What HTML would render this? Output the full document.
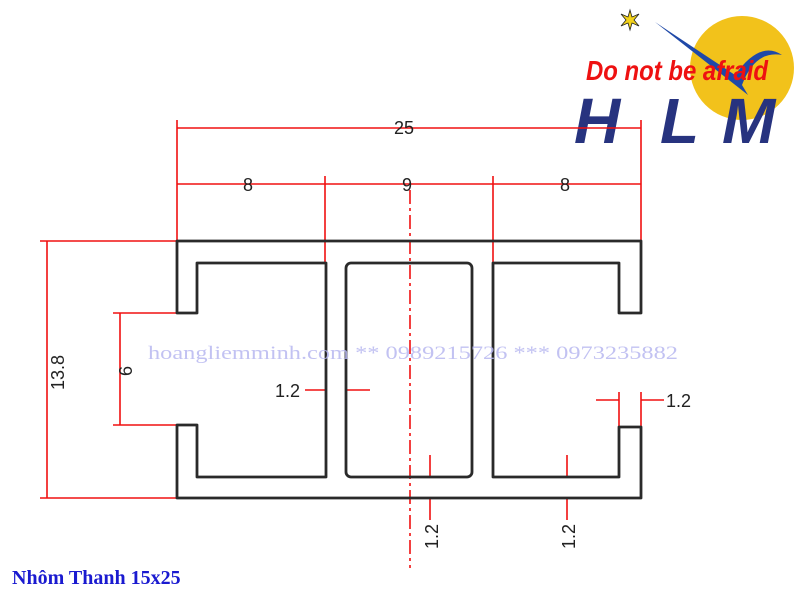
<!DOCTYPE html>
<html><head><meta charset="utf-8"><style>
html,body{margin:0;padding:0;background:#fff;}
svg{display:block;}
</style></head><body>
<svg width="800" height="600" viewBox="0 0 800 600" xmlns="http://www.w3.org/2000/svg">
<rect width="800" height="600" fill="#fff"/>
<!-- logo -->
<circle cx="742" cy="68" r="52" fill="#f2c21b"/>
<path d="M655,22 L735,75 Q760,40 782,55 Q755,50 742,85 L748,95 Z" fill="#1f49a8"/>
<g transform="translate(630,20)" fill="#f3d21a" stroke="#222" stroke-width="0.8">
<polygon points="0,-10 2,-3 9,-6 4,0 9,6 2,3 0,10 -2,3 -9,6 -4,0 -9,-6 -2,-3"/>
</g>
<text x="586" y="80" font-family="Liberation Sans, sans-serif" font-weight="bold" font-style="italic" font-size="28" fill="#ee1111" textLength="182" lengthAdjust="spacingAndGlyphs">Do not be afraid</text>
<g font-family="Liberation Sans, sans-serif" font-weight="bold" font-style="italic" font-size="64" fill="#27337f">
<text x="574" y="143">H</text>
<text x="660" y="143">L</text>
<text x="722" y="143">M</text>
</g>
<!-- red dimensions -->
<g stroke="#f01010" stroke-width="1.6" fill="none">
<line x1="177" y1="120" x2="177" y2="241"/>
<line x1="641" y1="120" x2="641" y2="241"/>
<line x1="177" y1="128" x2="641" y2="128"/>
<line x1="177" y1="184" x2="641" y2="184"/>
<line x1="325" y1="176" x2="325" y2="263"/>
<line x1="493" y1="176" x2="493" y2="263"/>
<line x1="40" y1="241" x2="177" y2="241"/>
<line x1="40" y1="498" x2="177" y2="498"/>
<line x1="47" y1="241" x2="47" y2="498"/>
<line x1="113" y1="313" x2="197" y2="313"/>
<line x1="113" y1="425" x2="197" y2="425"/>
<line x1="120" y1="313" x2="120" y2="425"/>
<line x1="305" y1="390" x2="325" y2="390"/>
<line x1="346" y1="390" x2="370" y2="390"/>
<line x1="596" y1="400" x2="619" y2="400"/>
<line x1="641" y1="400" x2="664" y2="400"/>
<line x1="619" y1="392" x2="619" y2="427"/>
<line x1="641" y1="392" x2="641" y2="427"/>
<line x1="430" y1="455" x2="430" y2="477"/>
<line x1="430" y1="498" x2="430" y2="520"/>
<line x1="567" y1="455" x2="567" y2="477"/>
<line x1="567" y1="498" x2="567" y2="520"/>
<line x1="410" y1="190" x2="410" y2="568" stroke-dasharray="14,4,3,4"/>
</g>
<!-- profile -->
<g stroke="#2a2a2a" stroke-width="2.8" fill="none" stroke-linejoin="round">
<path d="M177,241 H641 V313 H619 V263 H493 V477 H619 V427 H641 V498 H177 V425 H197 V477 H326 V263 H197 V313 H177 Z"/>
<rect x="346" y="263" width="126" height="214" rx="5"/>
</g>
<!-- dim text -->
<g font-family="Liberation Sans, sans-serif" font-size="18" fill="#222">
<text x="394" y="134">25</text>
<text x="243" y="191">8</text>
<text x="402" y="191">9</text>
<text x="560" y="191">8</text>
<text x="275" y="397">1.2</text>
<text x="666" y="407">1.2</text>
<text transform="translate(64,390) rotate(-90)">13.8</text>
<text transform="translate(132,376) rotate(-90)">6</text>
<text transform="translate(438,549) rotate(-90)">1.2</text>
<text transform="translate(575,549) rotate(-90)">1.2</text>
</g>
<text x="148" y="359" font-family="Liberation Serif, serif" font-size="19" fill="#b8b8f0" opacity="0.85" textLength="530" lengthAdjust="spacingAndGlyphs">hoangliemminh.com ** 0989215726 *** 0973235882</text>
<text x="12" y="584" font-family="Liberation Serif, serif" font-weight="bold" font-size="20" fill="#1a1ad0">Nhôm Thanh 15x25</text>
</svg>
</body></html>
